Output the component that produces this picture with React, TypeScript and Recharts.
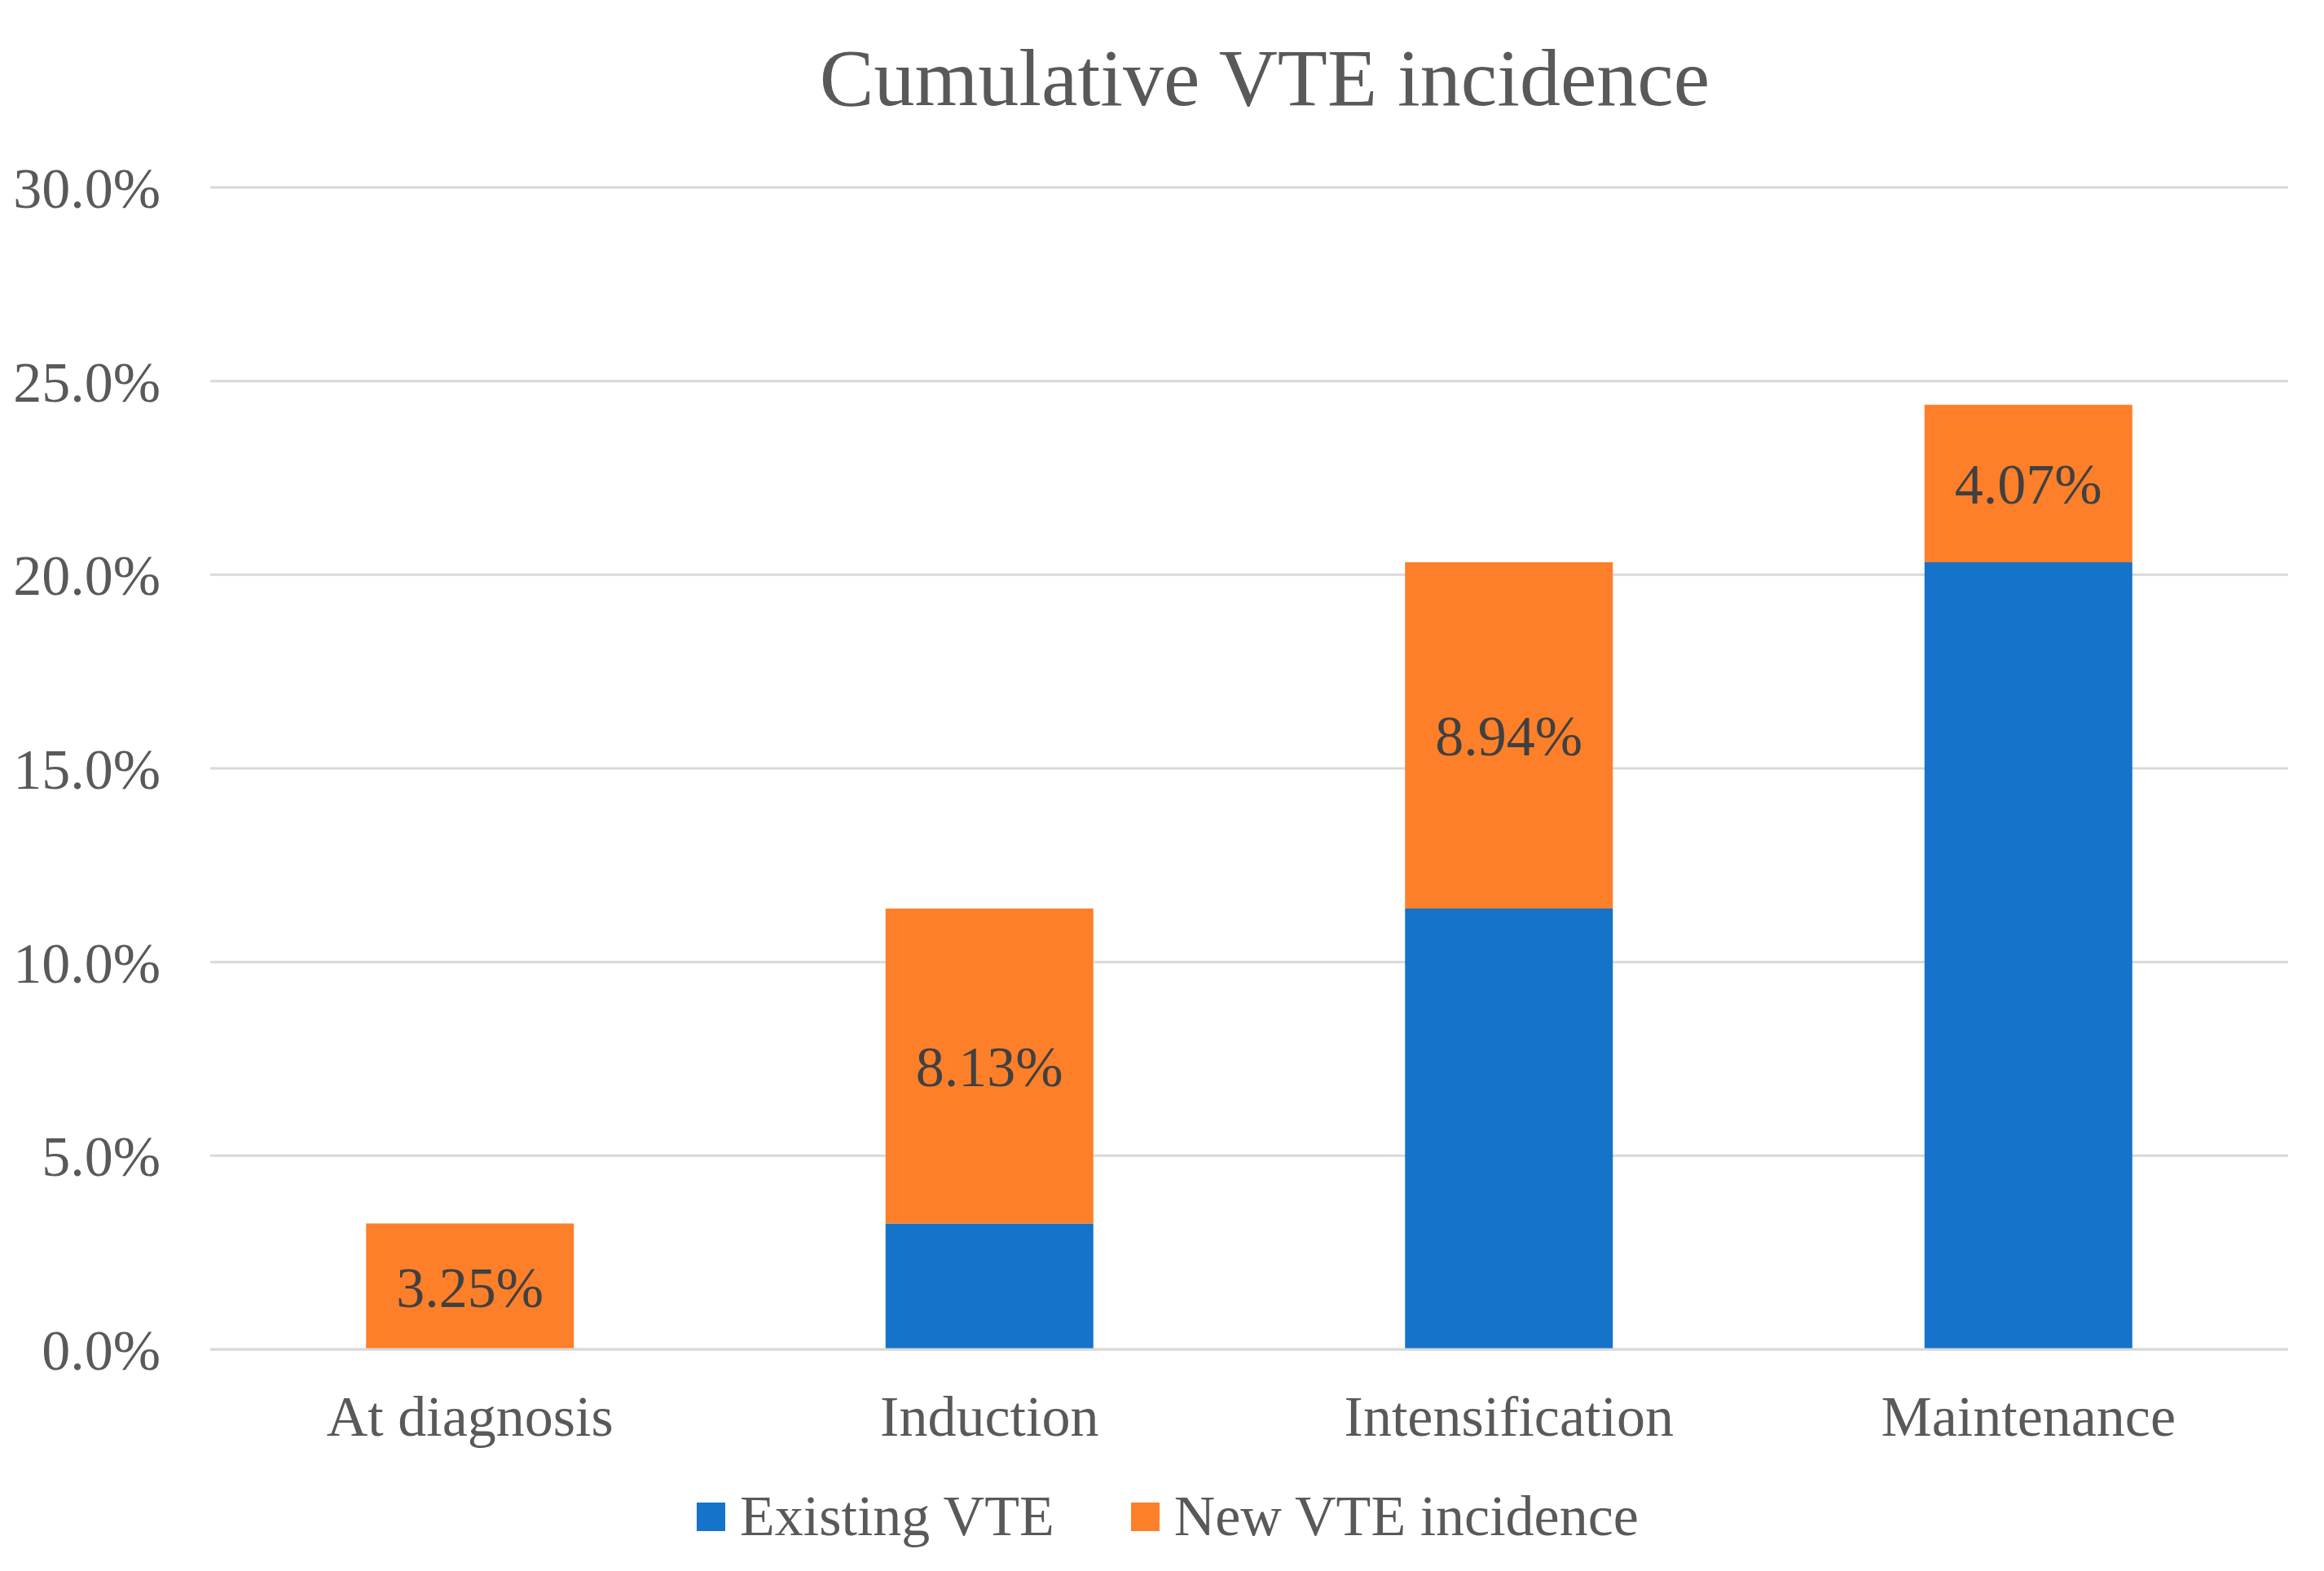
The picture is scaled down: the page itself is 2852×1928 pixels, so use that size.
import { BarChart, Bar, XAxis, YAxis, CartesianGrid, LabelList } from 'recharts';

const phases = ['At diagnosis', 'Induction', 'Intensification', 'Maintenance'];
const existingVte = [0, 3.25, 11.38, 20.32];
const newVte = [3.25, 8.13, 8.94, 4.07];
const yTicks = [0, 5, 10, 15, 20, 25, 30];

const BLUE = '#1573C9';
const ORANGE = '#FE7F29';
const TEXT = '#595959';
const FONT = '"Liberation Serif", "Times New Roman", serif';

const data = phases.map((phase, i) => ({ phase, existing: existingVte[i], incidence: newVte[i] }));

const legendItems = [
  { label: 'Existing VTE', color: BLUE },
  { label: 'New VTE incidence', color: ORANGE },
];

export default function App() {
  return (
    <div style={{ position: 'absolute', left: 0, top: 0, width: 2852, height: 1928, background: '#fff', fontFamily: FONT }}>
      <div
        style={{
          position: 'absolute',
          top: 46,
          left: 1552 - 800,
          width: 1600,
          textAlign: 'center',
          fontSize: 100,
          lineHeight: '100px',
          color: TEXT,
        }}
      >
        Cumulative VTE incidence
      </div>
      <BarChart
        width={2852}
        height={1928}
        data={data}
        margin={{ top: 230, right: 44, left: 0, bottom: 172 }}
        barCategoryGap="30%"
      >
        <CartesianGrid vertical={false} stroke="#D9D9D9" strokeWidth={3} />
        <XAxis
          dataKey="phase"
          height={100}
          axisLine={{ stroke: '#D9D9D9', strokeWidth: 3 }}
          tickLine={false}
          tickSize={0}
          tickMargin={56}
          tick={{ fontSize: 70, fill: TEXT, fontFamily: FONT }}
        />
        <YAxis
          width={258}
          domain={[0, 30]}
          ticks={yTicks}
          axisLine={false}
          tickLine={false}
          tickSize={0}
          tickMargin={61}
          tickFormatter={(v: number) => `${v.toFixed(1)}%`}
          tick={{ fontSize: 70, fill: TEXT, fontFamily: FONT }}
        />
        <Bar dataKey="existing" stackId="a" fill={BLUE} isAnimationActive={false} />
        <Bar dataKey="incidence" stackId="a" fill={ORANGE} isAnimationActive={false}>
          <LabelList
            dataKey="incidence"
            position="center"
            formatter={(v: number) => `${v.toFixed(2)}%`}
            style={{ fontSize: 70, fill: '#404040', fontFamily: FONT }}
          />
        </Bar>
      </BarChart>
      <div
        style={{
          position: 'absolute',
          top: 1826,
          left: 855,
          display: 'flex',
          alignItems: 'center',
          fontSize: 70,
          lineHeight: '70px',
          color: TEXT,
        }}
      >
        {legendItems.map((item, i) => (
          <div key={item.label} style={{ display: 'flex', alignItems: 'center', marginLeft: i === 0 ? 0 : 94 }}>
            <span style={{ width: 35, height: 35, background: item.color, display: 'inline-block', marginRight: 18 }} />
            <span>{item.label}</span>
          </div>
        ))}
      </div>
    </div>
  );
}
